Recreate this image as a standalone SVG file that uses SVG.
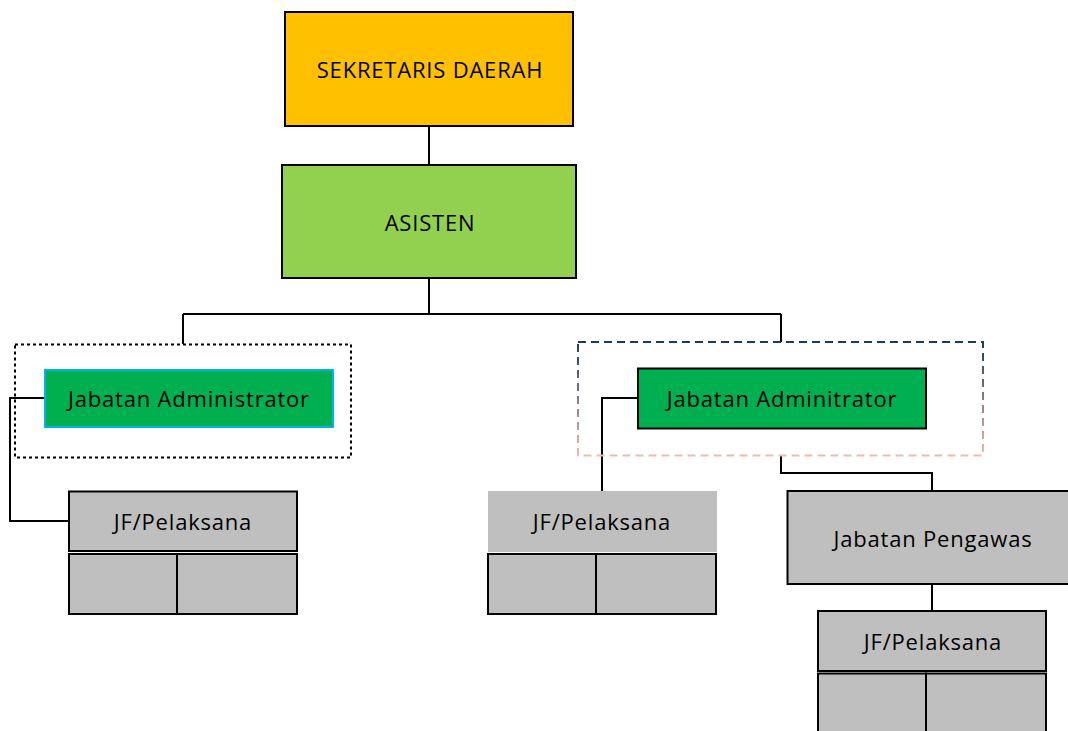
<svg xmlns="http://www.w3.org/2000/svg" width="1068" height="731" viewBox="0 0 1068 731">
<defs>
<linearGradient id="dashGrad" x1="0" y1="0" x2="0" y2="1">
<stop offset="0" stop-color="#1F3864"/>
<stop offset="1" stop-color="#F4B9AE"/>
</linearGradient>
<style>
.box{stroke:#000;stroke-width:2}
.lbl{font-family:"Open Sans","Liberation Sans",sans-serif;font-size:22px;letter-spacing:0.8px;fill:#000;text-anchor:middle;dominant-baseline:central}
.gray{fill:#BFBFBF}
.conn{fill:none;stroke:#000;stroke-width:2}
</style>
</defs>
<rect width="1068" height="731" fill="#fff"/>
<g id="connectors">
<path class="conn" d="M429 126V165"/>
<path class="conn" d="M429 278V314M183 314H781M183 314V344M781 314V342"/>
<path class="conn" d="M45 398H10V521H69"/>
<path class="conn" d="M638 398H602V491"/>
<path class="conn" d="M781 455V473H932V491"/>
<path class="conn" d="M932 584V611"/>
</g>
<g id="group-left">
<rect x="15" y="344.5" width="336" height="113" fill="none" stroke="#000" stroke-width="2" stroke-dasharray="3 3"/>
</g>
<g id="group-right">
<rect x="578" y="342" width="405" height="113.5" fill="none" stroke="url(#dashGrad)" stroke-width="2" stroke-dasharray="8 5"/>
</g>
<g id="sekda">
<rect class="box" x="285" y="12" width="288" height="114" fill="#FFC000"/>
<text class="lbl" x="430" y="68.5">SEKRETARIS DAERAH</text>
</g>
<g id="asisten">
<rect class="box" x="282" y="165" width="294" height="113" fill="#92D050"/>
<text class="lbl" x="430" y="221.5">ASISTEN</text>
</g>
<g id="admin-left">
<rect x="45" y="370" width="288" height="57" fill="#00B050" stroke="#00B0F0" stroke-width="2"/>
<text class="lbl" x="189" y="397.5">Jabatan Administrator</text>
</g>
<g id="admin-right">
<rect class="box" x="638" y="368.5" width="288" height="60" fill="#00B050"/>
<text class="lbl" x="782" y="397.5">Jabatan Adminitrator</text>
</g>
<g id="jf-left">
<rect class="box gray" x="69" y="491.5" width="228" height="59.5"/>
<text class="lbl" x="183" y="520.5">JF/Pelaksana</text>
<rect class="box gray" x="69" y="554" width="108" height="60"/>
<rect class="box gray" x="177" y="554" width="120" height="60"/>
</g>
<g id="jf-middle">
<rect class="gray" x="488" y="491" width="229" height="61"/>
<text class="lbl" x="602" y="520.5">JF/Pelaksana</text>
<rect class="box gray" x="488" y="554" width="108" height="60"/>
<rect class="box gray" x="596" y="554" width="120" height="60"/>
</g>
<g id="pengawas">
<rect class="box gray" x="787.5" y="491" width="282" height="93"/>
<text class="lbl" x="933" y="537.5">Jabatan Pengawas</text>
</g>
<g id="jf-right">
<rect class="box gray" x="818" y="611" width="228" height="60"/>
<text class="lbl" x="933" y="640.5">JF/Pelaksana</text>
<rect class="box gray" x="818" y="673.5" width="108" height="62"/>
<rect class="box gray" x="926" y="673.5" width="120" height="62"/>
</g>
</svg>
